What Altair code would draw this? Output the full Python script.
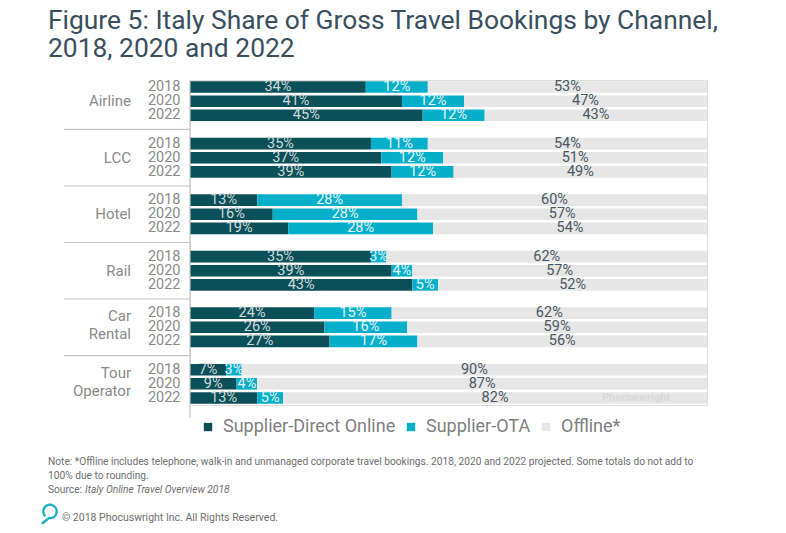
import altair as alt
import pandas as pd

categories = ["Airline", "LCC", "Hotel", "Rail", "Car Rental", "Tour Operator"]
cat_lines = [["Airline"], ["LCC"], ["Hotel"], ["Rail"], ["Car", "Rental"], ["Tour", "Operator"]]
years = ["2018", "2020", "2022"]
channels = ["Supplier-Direct Online", "Supplier-OTA", "Offline*"]
direct = [[34, 41, 45], [35, 37, 39], [13, 16, 19], [35, 39, 43], [24, 26, 27], [7, 9, 13]]
ota = [[12, 12, 12], [11, 12, 12], [28, 28, 28], [3, 4, 5], [15, 16, 17], [3, 4, 5]]
offline = [[53, 47, 43], [54, 51, 49], [60, 57, 54], [62, 57, 52], [62, 59, 56], [90, 87, 82]]

COL_DIRECT = "#0b4f59"
COL_OTA = "#06afc9"
COL_OFF = "#e6e6e6"
FONT = "Roboto"
NARROW = "Liberation Sans Narrow, Roboto"

# y domain with spacer rows between groups
domain = []
gaps = []
for i, c in enumerate(categories):
    for y in years:
        domain.append(f"{c}|{y}")
    if i < len(categories) - 1:
        g = f"gap{i}"
        domain.append(g)
        gaps.append(g)

rows = []
for i, c in enumerate(categories):
    for j, y in enumerate(years):
        key = f"{c}|{y}"
        d, o, f = direct[i][j], ota[i][j], offline[i][j]
        rows.append(dict(row=key, channel=channels[0], start=0, end=d, mid=d / 2,
                         label=f"{d}%", labcolor="#cfd9db"))
        rows.append(dict(row=key, channel=channels[1], start=d, end=d + o, mid=d + o / 2,
                         label=f"{o}%", labcolor="#e3f5f8"))
        rows.append(dict(row=key, channel=channels[2], start=d + o, end=100, mid=(d + o + 100) / 2,
                         label=f"{f}%", labcolor="#4a5863"))
bars_df = pd.DataFrame(rows)

ysc = alt.Scale(domain=domain, paddingInner=0.18, paddingOuter=0.09)
xsc = alt.Scale(domain=[0, 100], nice=False, zero=True)

yaxis = alt.Axis(title=None, domain=False, ticks=False, labelPadding=10,
                 labelFontSize=14.5, labelFont=FONT, labelColor="#8a8a8a",
                 labelExpr="indexof(datum.value, '|') > 0 ? split(datum.value, '|')[1] : ''")

bars = alt.Chart(bars_df).mark_bar().encode(
    x=alt.X("start:Q", scale=xsc, axis=None),
    x2="end:Q",
    y=alt.Y("row:N", scale=ysc, axis=yaxis, sort=domain),
    color=alt.Color("channel:N",
                    scale=alt.Scale(domain=channels, range=[COL_DIRECT, COL_OTA, COL_OFF]),
                    legend=alt.Legend(title=None, orient="none", direction="horizontal",
                                      legendX=9, legendY=338, symbolType="square",
                                      symbolSize=70, symbolStrokeWidth=0, labelLimit=400,
                                      labelFontSize=18, labelFont=FONT, labelColor="#7f7f7f",
                                      columnPadding=6, labelOffset=6)),
)

labels = alt.Chart(bars_df).mark_text(fontSize=14.5, font=FONT, baseline="middle").encode(
    x=alt.X("mid:Q", scale=xsc),
    y=alt.Y("row:N", scale=ysc, sort=domain),
    text="label:N",
    color=alt.Color("labcolor:N", scale=None),
)

gap_df = pd.DataFrame({"row": gaps})
seps = alt.Chart(gap_df).mark_rule(color="#c4c4c4", strokeWidth=1.2).encode(
    y=alt.Y("row:N", scale=ysc, sort=domain),
    x=alt.value(-126),
    x2=alt.value(0),
)

vline = alt.Chart(pd.DataFrame({"a": [0]})).mark_rule(color="#c4c4c4", strokeWidth=1.2).encode(
    x=alt.value(0), y=alt.value(0), y2=alt.value(338)
)

cat_df = pd.DataFrame({"row": [f"{c}|2020" for c in categories], "text": cat_lines,
                       "n": [len(l) for l in cat_lines]})
cats1 = alt.Chart(cat_df).transform_filter("datum.n == 1").mark_text(
    align="right", baseline="middle", fontSize=15, font=FONT, color="#8a8a8a").encode(
    y=alt.Y("row:N", scale=ysc, sort=domain),
    x=alt.value(-59),
    text="text",
)
cats2 = alt.Chart(cat_df).transform_filter("datum.n == 2").mark_text(
    align="right", baseline="middle", fontSize=15, font=FONT, color="#8a8a8a",
    lineHeight=18, dy=-11).encode(
    y=alt.Y("row:N", scale=ysc, sort=domain),
    x=alt.value(-59),
    text="text",
)

wm = alt.Chart(pd.DataFrame({"row": ["Tour Operator|2022"], "t": ["Phocuswright"]})).mark_text(
    align="left", baseline="middle", fontSize=11, font=FONT, fontWeight="bold", color="#d8d8d8"
).encode(y=alt.Y("row:N", scale=ysc, sort=domain), x=alt.value(412), text="t:N")

def txt(t, x, y, size, color, font=FONT, style="normal", baseline="middle"):
    return alt.Chart(pd.DataFrame({"t": [t]})).mark_text(
        align="left", baseline=baseline, fontSize=size, font=font, color=color, fontStyle=style
    ).encode(x=alt.value(x), y=alt.value(y), text="t:N")

title1 = txt("Figure 5: Italy Share of Gross Travel Bookings by Channel,", -142, -51, 26.4, "#3a4f5e", baseline="alphabetic")
title2 = txt("2018, 2020 and 2022", -142, -23, 26.4, "#3a4f5e", baseline="alphabetic")
note1 = txt("Note: *Offline includes telephone, walk-in and unmanaged corporate travel bookings. 2018, 2020 and 2022 projected. Some totals do not add to",
            -142, 382, 10.2, "#6e6e6e", font=NARROW)
note2 = txt("100% due to rounding.", -142, 396, 10.2, "#6e6e6e", font=NARROW)
src1 = txt("Source:", -142, 410, 10.2, "#6e6e6e", font=NARROW)
src2 = txt("Italy Online Travel Overview 2018", -105, 410, 10.2, "#6e6e6e", font=NARROW, style="italic")
copy = txt("\u00a9 2018 Phocuswright Inc. All Rights Reserved.", -128, 438, 10.5, "#6e6e6e", font=NARROW)

logo = alt.Chart(pd.DataFrame({"a": [0]})).mark_point(
    shape="M -0.36 0.21 A 0.65 0.65 0 1 1 -0.01 0.39 L -0.7 0.95",
    filled=False, size=420, strokeWidth=2.4, color="#1aafc9", opacity=1
).encode(x=alt.value(-141), y=alt.value(434))

chart = alt.layer(
    bars, labels, seps, vline, cats1, cats2, wm, title1, title2, note1, note2, src1, src2, copy, logo
).resolve_scale(color="independent").properties(
    width=517, height=325,
    padding={"left": 182, "top": 72, "right": 71, "bottom": 120},
    autosize=alt.AutoSizeParams(type="none"),
).configure_view(stroke=None).configure(background="white")

chart.save("out.html", embed_options={"renderer": "svg", "actions": False})
